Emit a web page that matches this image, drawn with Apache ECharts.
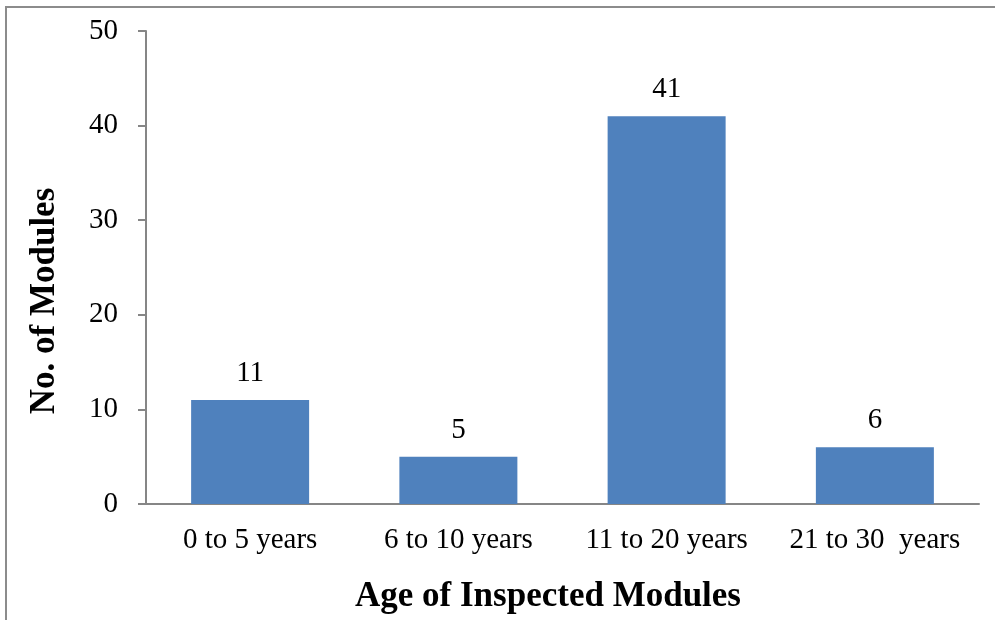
<!DOCTYPE html>
<html>
<head>
<meta charset="utf-8">
<script src="https://cdn.jsdelivr.net/npm/echarts@6/dist/echarts.min.js"></script>
<style>
  html, body { margin: 0; padding: 0; background: #ffffff; }
  #chart { width: 995px; height: 620px; }
</style>
</head>
<body>
<div id="chart"></div>
<script>
// data
const categories = ['0 to 5 years', '6 to 10 years', '11 to 20 years', '21 to 30  years']
const modules = [11, 5, 41, 6]
const yTicks = [0, 10, 20, 30, 40, 50]

const font = 'Liberation Serif'
const axisGrey = '#868686'

const myChart = echarts.init(document.getElementById('chart'))

const option = {
  animation: false,
  backgroundColor: '#ffffff',
  grid: { left: 146, right: 16, top: 31, bottom: 116 },
  graphic: [
    {
      // outer frame (top and left edges only)
      type: 'polyline',
      shape: { points: [[6, 620], [6, 7], [995, 7]] },
      style: { stroke: '#8c8c8c', lineWidth: 2, fill: null }
    },
    {
      type: 'text',
      x: 45,
      y: 301,
      rotation: Math.PI / 2,
      style: {
        text: 'No. of Modules',
        font: 'bold 35px "Liberation Serif"',
        fill: '#000',
        align: 'center',
        verticalAlign: 'middle'
      }
    },
    {
      type: 'text',
      x: 548,
      y: 597,
      style: {
        text: 'Age of Inspected Modules',
        font: 'bold 35px "Liberation Serif"',
        fill: '#000',
        align: 'center',
        verticalAlign: 'middle'
      }
    }
  ],
  xAxis: {
    type: 'category',
    data: categories,
    axisLine: { lineStyle: { color: axisGrey, width: 2 } },
    axisTick: { show: false },
    axisLabel: { interval: 0, color: '#000', fontFamily: font, fontSize: 29, margin: 22 }
  },
  yAxis: {
    type: 'value',
    min: yTicks[0],
    max: yTicks[yTicks.length - 1],
    interval: yTicks[1] - yTicks[0],
    splitLine: { show: false },
    axisLine: { show: true, lineStyle: { color: axisGrey, width: 2 } },
    axisTick: { show: true, length: 8, lineStyle: { color: axisGrey, width: 2 } },
    axisLabel: { color: '#000', fontFamily: font, fontSize: 29, margin: 28 }
  },
  series: [
    {
      type: 'bar',
      data: modules,
      barWidth: 118,
      itemStyle: { color: '#4f81bd' },
      label: {
        show: true,
        position: 'top',
        distance: 12,
        color: '#000',
        fontFamily: font,
        fontSize: 29
      }
    }
  ]
}

myChart.setOption(option)
</script>
</body>
</html>
